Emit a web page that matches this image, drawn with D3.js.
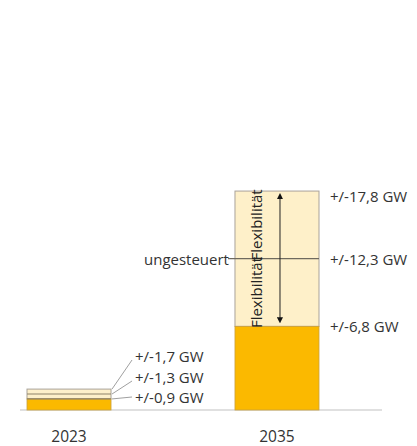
<!DOCTYPE html>
<html>
<head>
<meta charset="utf-8">
<script src="https://cdn.jsdelivr.net/npm/d3@7"></script>
<style>
  html, body { margin: 0; padding: 0; background: #fff; }
  svg { display: block; font-family: "Open Sans", "Noto Sans", sans-serif; }
</style>
</head>
<body>
<svg id="chart" width="417" height="446"></svg>
<script>
// Stacked flexibility bands per year (GW)
const years = ["2023", "2035"];
const baseValues = [0.9, 6.8];   // orange base segment
const midValues = [1.3, 12.3];   // uncontrolled flexibility boundary
const topValues = [1.7, 17.8];   // total flexibility

const fmt = v => "+/-" + v.toFixed(1).replace(".", ",") + " GW";

const svg = d3.select("#chart");
const baseY = 410;
const fs = 15;

const x = d3.scaleBand().domain(years).range([27, 319]).paddingInner(0.596).paddingOuter(0);
const y = d3.scaleLinear().domain([0, 20]).range([baseY, baseY - 246]);

const orange = "#FBB900";
const light = "#FEF0C9";
const edge = "#A9A39A";
const divider = "#8E8268";

// arrowheads
const defs = svg.append("defs");
["start", "end"].forEach(k => {
  defs.append("marker")
    .attr("id", "arr-" + k)
    .attr("viewBox", "0 0 10 10")
    .attr("refX", 5).attr("refY", 5)
    .attr("markerWidth", 6).attr("markerHeight", 6)
    .attr("orient", k === "start" ? "auto-start-reverse" : "auto")
    .append("path").attr("d", "M0,0 L10,5 L0,10 Z").attr("fill", "#111");
});

// baseline
svg.append("line")
  .attr("x1", 20).attr("x2", 382)
  .attr("y1", baseY).attr("y2", baseY)
  .attr("stroke", "#D6D6D6").attr("stroke-width", 1.5);

const rows = years.map((yr, i) => ({ yr, base: baseValues[i], mid: midValues[i], top: topValues[i] }));

const g = svg.append("g");
rows.forEach(d => {
  const x0 = x(d.yr), bw = x.bandwidth();
  // light band (base → top)
  g.append("rect")
    .attr("x", x0).attr("width", bw)
    .attr("y", y(d.top)).attr("height", y(d.base) - y(d.top))
    .attr("fill", light).attr("stroke", edge).attr("stroke-width", 1);
  // orange base
  g.append("rect")
    .attr("x", x0).attr("width", bw)
    .attr("y", y(d.base)).attr("height", y(0) - y(d.base))
    .attr("fill", orange).attr("stroke", "#C9A040").attr("stroke-width", 0.8);
});

// 2023: dividers inside the thin bar, labels with leader lines
{
  const d = rows[0], x0 = x(d.yr), bw = x.bandwidth();
  [d.mid, d.base].forEach(v => {
    g.append("line")
      .attr("x1", x0).attr("x2", x0 + bw)
      .attr("y1", y(v)).attr("y2", y(v))
      .attr("stroke", divider).attr("stroke-width", 1.2);
  });
  const labelX = x0 + bw + 24;
  const vals = [d.top, d.mid, d.base];
  const labelY = [356, 377, 397];
  vals.forEach((v, i) => {
    g.append("line")
      .attr("x1", x0 + bw + 1).attr("y1", y(v))
      .attr("x2", labelX - 3).attr("y2", labelY[i] + (i === 2 ? 0 : 4))
      .attr("stroke", "#A0A0A0").attr("stroke-width", 1);
    g.append("text")
      .attr("x", labelX).attr("y", labelY[i])
      .attr("dominant-baseline", "central")
      .attr("font-size", fs).attr("fill", "#333")
      .text(fmt(v));
  });
}

// 2035: middle divider, arrow, rotated labels, value labels
{
  const d = rows[1], x0 = x(d.yr), bw = x.bandwidth();
  g.append("line")
    .attr("x1", x0 - 7).attr("x2", x0 + bw)
    .attr("y1", y(d.mid)).attr("y2", y(d.mid))
    .attr("stroke", "#6F6A5E").attr("stroke-width", 1.2);

  g.append("text")
    .attr("x", x0 - 6).attr("y", y(d.mid))
    .attr("text-anchor", "end").attr("dominant-baseline", "central")
    .attr("font-size", fs).attr("fill", "#333")
    .text("ungesteuert");

  const ax = x0 + bw / 2 + 3;
  g.append("line")
    .attr("x1", ax).attr("x2", ax)
    .attr("y1", y(d.top) + 5).attr("y2", y(d.base) - 6)
    .attr("stroke", "#222").attr("stroke-width", 1)
    .attr("marker-start", "url(#arr-start)")
    .attr("marker-end", "url(#arr-end)");

  const tx = x0 + 21;
  [[d.mid, d.top], [d.base, d.mid]].forEach(([lo, hi]) => {
    const cy = (y(lo) + y(hi)) / 2;
    g.append("text")
      .attr("transform", `translate(${tx},${cy}) rotate(-90)`)
      .attr("text-anchor", "middle").attr("dominant-baseline", "central")
      .attr("font-size", fs).attr("fill", "#222")
      .text("Flexibilität");
  });

  const lx = x0 + bw + 11;
  [[d.top, 5], [d.mid, 0], [d.base, 0]].forEach(([v, dy]) => {
    g.append("text")
      .attr("x", lx).attr("y", y(v) + dy)
      .attr("dominant-baseline", "central")
      .attr("font-size", fs).attr("fill", "#333")
      .text(fmt(v));
  });
}

// year labels
svg.append("g").selectAll("text").data(years).join("text")
  .attr("x", d => x(d) + x.bandwidth() / 2)
  .attr("y", 442)
  .attr("text-anchor", "middle")
  .attr("font-size", 15.5).attr("fill", "#333")
  .text(d => d);
</script>
</body>
</html>
